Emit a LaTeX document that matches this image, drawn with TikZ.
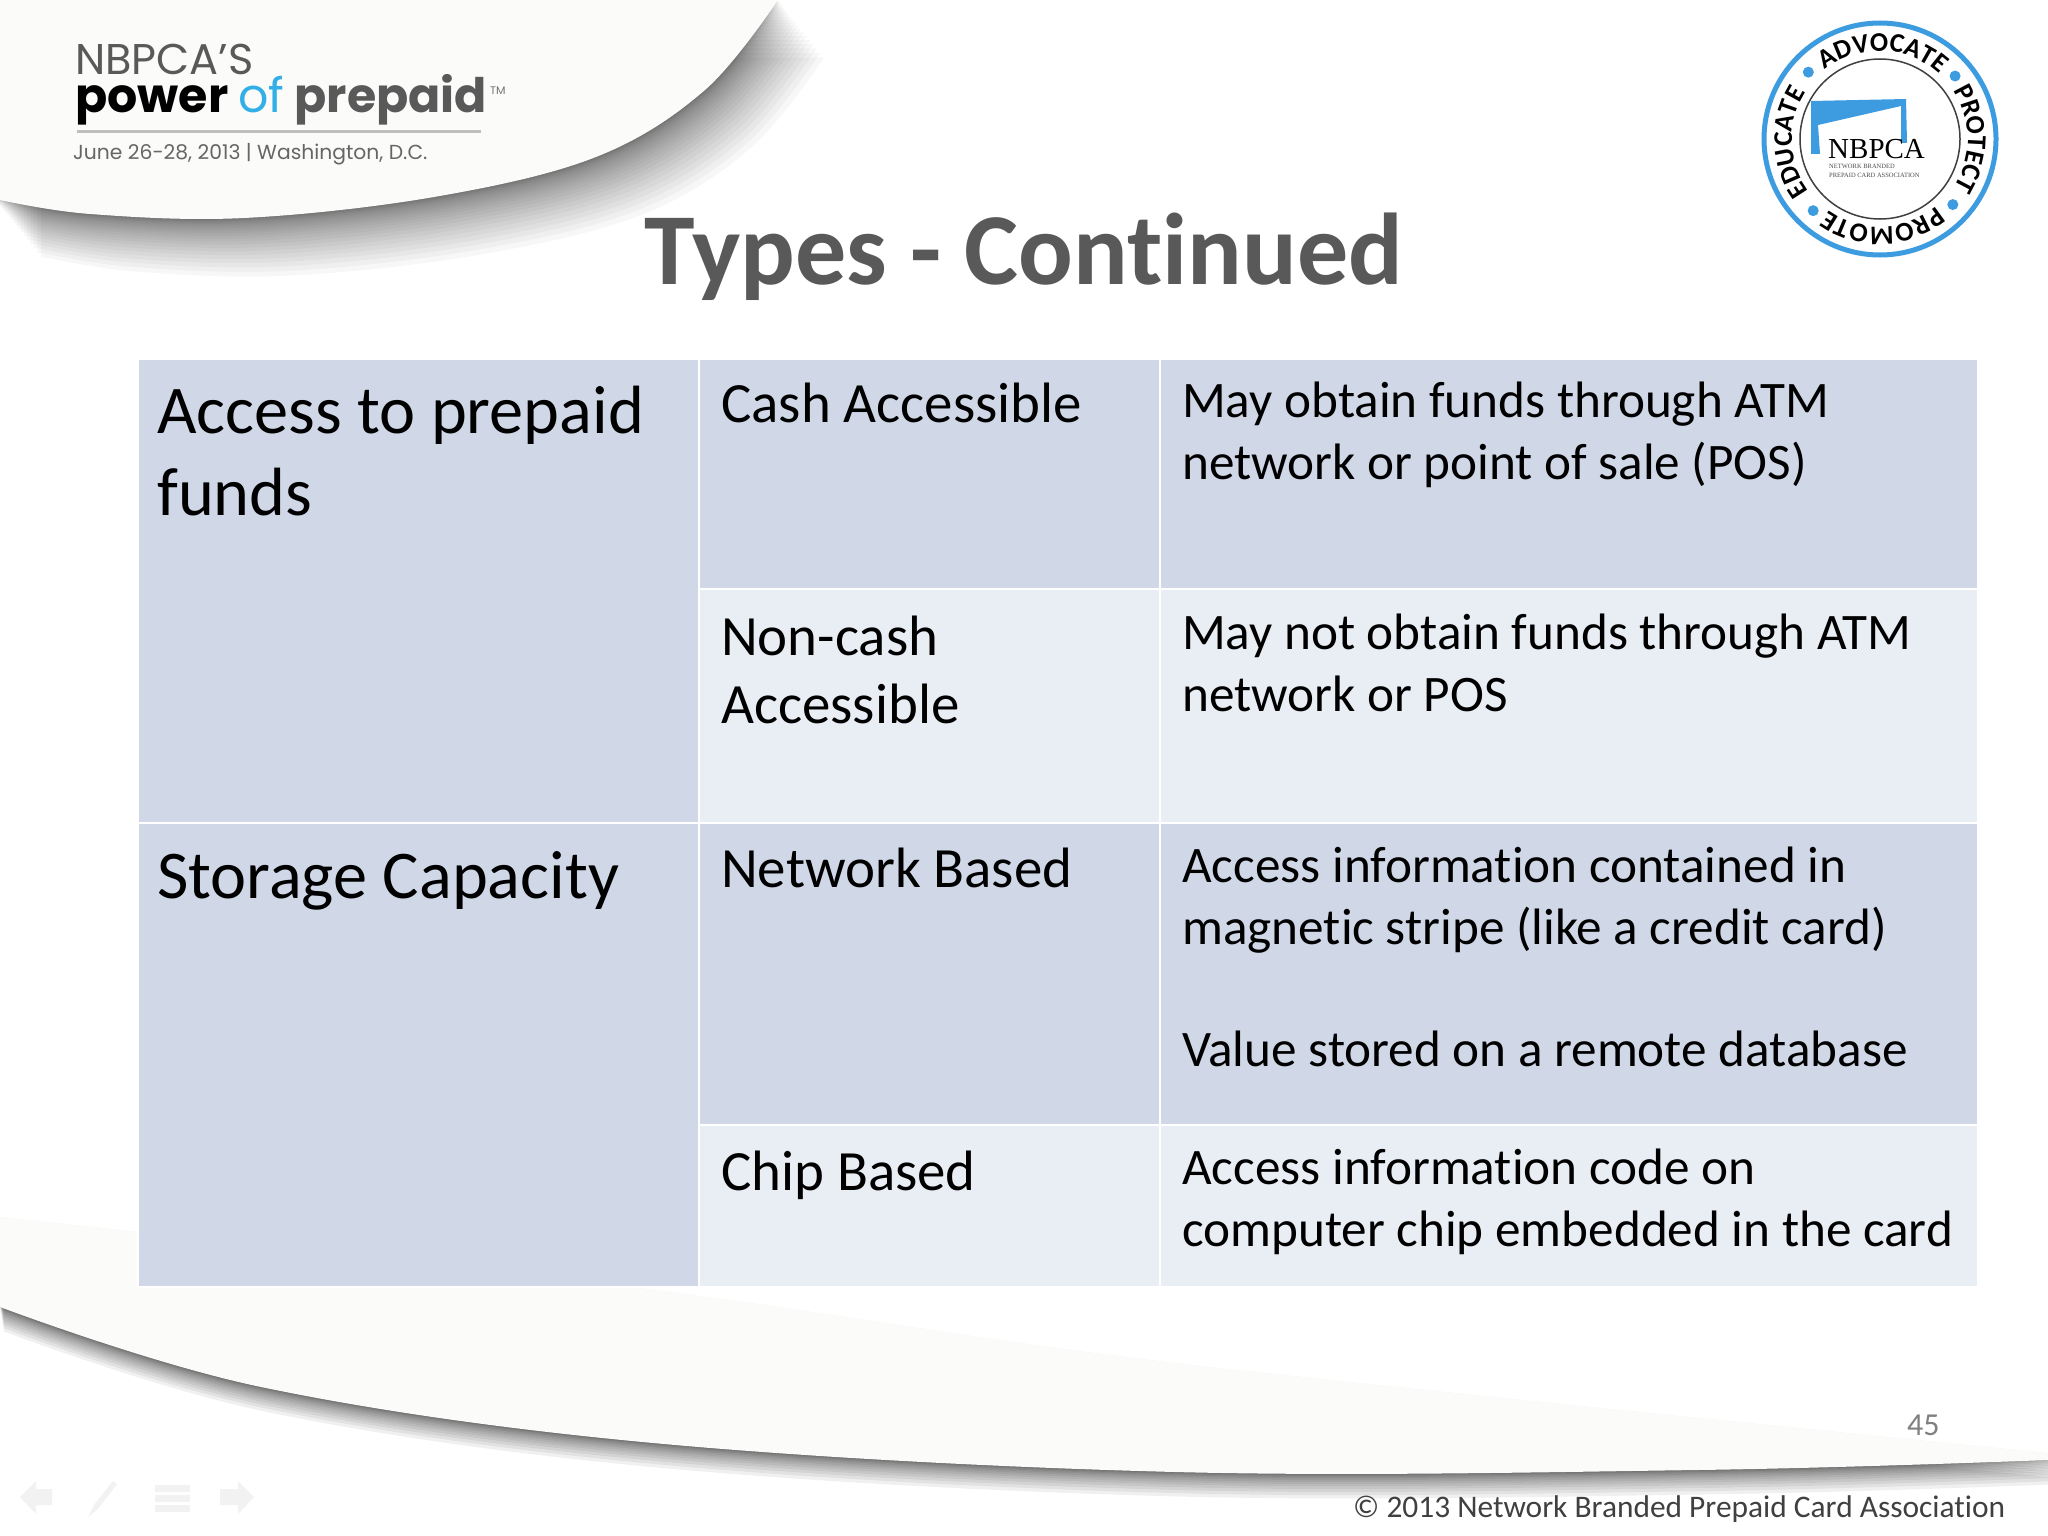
\documentclass[tikz,border=0pt]{standalone}
\usepackage{fontspec}
\setmainfont[Ligatures=NoCommon]{Carlito}
\newfontfamily\logofont{Poppins}
\newfontfamily\serifsm{Liberation Serif}
\usetikzlibrary{decorations.text}
\definecolor{dk}{HTML}{D0D8E8}
\definecolor{lt}{HTML}{E9EDF4}
\definecolor{swoosh}{HTML}{FBFBF9}
\definecolor{ringblue}{HTML}{3D9BE0}
\newcommand{\fs}[1]{\fontsize{#1}{#1}\selectfont}
\tikzset{
  x=1pt,y=-1pt,
  cellfill/.style={draw=white,line width=2.5pt},
  big/.style={anchor=base west,inner sep=0pt,font=\fs{68.3},text=black},
  mid/.style={anchor=base west,inner sep=0pt,font=\fs{56.9},text=black},
  small/.style={anchor=base west,inner sep=0pt,font=\fs{51.2},text=black},
  logotext/.style={anchor=base west,inner sep=0pt},
  navicon/.style={fill=black!5,draw=none},
}
\newcommand{\headshape}{(-5,0) -- (778,0) -- plot[smooth,tension=.6] coordinates {(778,0) (705,90) (596,157) (434,197) (244,218) (90,214) (0,200)} -- (-5,200) -- cycle}
\newcommand{\footshape}{(0,1217) -- plot[smooth,tension=.5] coordinates {(0,1217) (653,1290) (1175,1363) (2048,1453)} -- (2048,1460) -- plot[smooth,tension=.6] coordinates {(2048,1460) (1698,1470) (1175,1472) (653,1443) (261,1387) (0,1307)} -- cycle}
\begin{document}
\begin{tikzpicture}
\useasboundingbox (0,0) rectangle (2048,1536);
\clip (0,0) rectangle (2048,1536);
\fill[white] (0,0) rectangle (2048,1536);

% header swoosh with shadow
\foreach \k in {1,2,...,24}{
  \fill[black,opacity=0.03,shift={(\k*\k*0.08,\k*\k*0.1)}] \headshape;
}
\fill[swoosh] \headshape;

% footer swoosh with shadow
\foreach \k in {1,2,...,14}{
  \fill[black,opacity=0.06,shift={(\k*\k*0.02,\k*\k*0.125)}] \footshape;
}
\fill[swoosh] \footshape;

% logo text
\node[logotext,font=\logofont\fs{43},text=black!65] (logoa) at (75,75) {NBPCA’S};
\node[logotext,font=\logofont\bfseries\fs{47.5}] (logob) at (75,113) {\textcolor{black}{power} {\mdseries\textcolor{ringblue!80!cyan}{of}} \textcolor{black!65}{prepaid}};
\node[logotext,font=\logofont\fs{11},text=black!55] (logotm) at (490,95) {TM};
\coordinate (rulea) at (77,132);
\coordinate (ruleb) at (481,132);
\draw[black!25,line width=3pt] (rulea) -- (ruleb);
\node[logotext,font=\logofont\fs{20.3},text=black!60] (logoc) at (73,160) {June 26-28, 2013 | Washington, D.C.};

% title
\node[anchor=base,inner sep=0pt,font=\bfseries\fs{102},text=black!65] (title) at (1024,284) {Types - Continued};

% table cells
\path[fill=dk,cellfill] (138,359) rectangle (699,823);
\path[fill=dk,cellfill] (138,823) rectangle (699,1287);
\path[fill=dk,cellfill] (699,359) rectangle (1160,589);
\path[fill=dk,cellfill] (1160,359) rectangle (1978,589);
\path[fill=lt,cellfill] (699,589) rectangle (1160,823);
\path[fill=lt,cellfill] (1160,589) rectangle (1978,823);
\path[fill=dk,cellfill] (699,823) rectangle (1160,1125);
\path[fill=dk,cellfill] (1160,823) rectangle (1978,1125);
\path[fill=lt,cellfill] (699,1125) rectangle (1160,1287);
\path[fill=lt,cellfill] (1160,1125) rectangle (1978,1287);

% first column
\node[big] (a1) at (157,433) {Access to prepaid};
\node[big] (a2) at (157,515) {funds};
\node[big] (a3) at (157,898) {Storage Capacity};
% second column
\node[mid] (b1) at (721,422) {Cash Accessible};
\node[mid] (b2) at (721,655) {Non-cash};
\node[mid] (b3) at (721,723) {Accessible};
\node[mid] (b4) at (721,887) {Network Based};
\node[mid] (b5) at (721,1190) {Chip Based};
% third column
\node[small] (c1) at (1182,417) {May obtain funds through ATM};
\node[small] (c2) at (1182,479) {network or point of sale (POS)};
\node[small] (c3) at (1182,649) {May not obtain funds through ATM};
\node[small] (c4) at (1182,711) {network or POS};
\node[small] (c5) at (1182,882) {Access information contained in};
\node[small] (c6) at (1182,944) {magnetic stripe (like a credit card)};
\node[small] (c7) at (1182,1066) {Value stored on a remote database};
\node[small] (c8) at (1182,1184) {Access information code on};
\node[small] (c9) at (1182,1246) {computer chip embedded in the card};

% page number and footer
\node[anchor=base west,inner sep=0pt,font=\fs{32},text=black!50] (page) at (1907,1435) {45};
\node[anchor=base west,inner sep=0pt,font=\fs{31.4},text=black!75] (copy) at (1353,1517) {© 2013 Network Branded Prepaid Card Association};

% nav icons
\fill[navicon] (20,1497) -- (36,1481) -- (36,1489) -- (52,1489) -- (52,1505) -- (36,1505) -- (36,1514) -- cycle;
\fill[navicon] (88,1517) -- (94,1505) -- (113,1481) -- (117,1484) -- (98,1509) -- cycle;
\fill[navicon] (155,1485) rectangle (190,1492);
\fill[navicon] (155,1495) rectangle (190,1502);
\fill[navicon] (155,1505) rectangle (190,1512);
\fill[navicon] (254,1497) -- (238,1481) -- (238,1489) -- (220,1489) -- (220,1505) -- (238,1505) -- (238,1514) -- cycle;

% seal
\fill[white] (1880,139) circle[radius=122];
\draw[ringblue,line width=5pt] (1880,139) circle[radius=116];
\draw[black!75,line width=1.5pt] (1880,139) circle[radius=80];
\foreach \a in {137,40,-42,227}{
  \fill[ringblue] ({1880+98*cos(\a)},{139-98*sin(\a)}) circle[radius=5.5];
}
\path[decorate,decoration={text along path,text align=center,text={|\bfseries\fs{27}|ADVOCATE}}]
  plot[domain=148:28,samples=40,variable=\t] ({1880+88*cos(\t)},{139-88*sin(\t)});
\path[decorate,decoration={text along path,text align=center,text={|\bfseries\fs{27}|PROTECT}}]
  plot[domain=60:-60,samples=40,variable=\t] ({1880+88*cos(\t)},{139-88*sin(\t)});
\path[decorate,decoration={text along path,text align=center,text={|\bfseries\fs{27}|PROMOTE}}]
  plot[domain=-28:-148,samples=40,variable=\t] ({1880+88*cos(\t)},{139-88*sin(\t)});
\path[decorate,decoration={text along path,text align=center,text={|\bfseries\fs{27}|EDUCATE}}]
  plot[domain=242:122,samples=40,variable=\t] ({1880+88*cos(\t)},{139-88*sin(\t)});
\fill[ringblue] (1811,101) -- (1906,99) -- (1907,143) -- (1901,143) -- (1901,106) -- (1818,125) -- (1820,154) -- (1811,154) -- cycle;
\node[anchor=base west,inner sep=0pt,font=\serifsm\fs{29},text=black] (sealname) at (1828,159) {NBPCA};
\node[anchor=base west,inner sep=0pt,font=\serifsm\fs{6.5},text=black!70] (sealsub1) at (1829,168) {NETWORK BRANDED};
\node[anchor=base west,inner sep=0pt,font=\serifsm\fs{6.5},text=black!70] (sealsub2) at (1829,177) {PREPAID CARD ASSOCIATION};
\end{tikzpicture}
\end{document}
